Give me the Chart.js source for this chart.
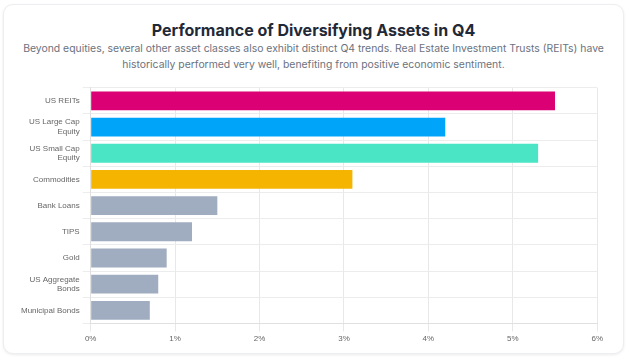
<!DOCTYPE html>
<html>
<head>
<meta charset="utf-8">
<style>
	body {
		margin: 0;
		background: #ffffff;
		font-family: Inter, "Noto Sans", sans-serif;
	}

	.card {
		position: absolute;
		left: 3px;
		top: 4px;
		width: 619px;
		height: 348px;
		background: #fff;
		border: 1px solid #eceef1;
		border-radius: 10px;
		box-shadow: 0 1px 3px rgba(0, 0, 0, 0.08);
	}

	.card h2 {
		position: absolute;
		left: 0;
		right: 0;
		top: 15px;
		margin: 0;
		text-align: center;
		font-size: 16px;
		font-weight: 700;
		color: #1f2937;
	}

	.card p {
		position: absolute;
		left: 6px;
		right: 6px;
		top: 36px;
		margin: 0;
		text-align: center;
		font-size: 10.4px;
		line-height: 16px;
		color: #6b7280;
	}

	.chartBox {
		position: absolute;
		left: 14px;
		top: 75px;
		width: 588px;
		height: 267px;
	}
</style>
</head>
<body>
<div class="card">
	<h2>Performance of Diversifying Assets in Q4</h2>
	<p>Beyond equities, several other asset classes also exhibit distinct Q4 trends. Real Estate Investment Trusts (REITs) have historically performed very well, benefiting from positive economic sentiment.</p>
	<div class="chartBox">
		<canvas id="assetChart"></canvas>
	</div>
</div>

<script src="https://cdn.jsdelivr.net/npm/chart.js"></script>

<script>
	var labels = [
		'US REITs',
		['US Large Cap', 'Equity'],
		['US Small Cap', 'Equity'],
		'Commodities',
		'Bank Loans',
		'TIPS',
		'Gold',
		['US Aggregate', 'Bonds'],
		'Municipal Bonds'
	];

	var q4Returns = [5.5, 4.2, 5.3, 3.1, 1.5, 1.2, 0.9, 0.8, 0.7];

	var barColors = [
		'#db0073', // REITs
		'#00a5f9', // large cap
		'#4ae5c5', // small cap
		'#f4b400', // commodities
		'#a0acbf',
		'#a0acbf',
		'#a0acbf',
		'#a0acbf',
		'#a0acbf'
	];

	var tickFont = { family: 'Arial, "Liberation Sans", sans-serif', size: 8 };

	new Chart(document.getElementById('assetChart'), {
		type: 'bar',
		data: {
			labels: labels,
			datasets: [{
				label: 'Q4 Return',
				data: q4Returns,
				backgroundColor: barColors,
				borderWidth: 0
			}]
		},
		options: {
			indexAxis: 'y',
			responsive: true,
			maintainAspectRatio: false,
			animation: false,
			plugins: {
				legend: { display: false },
				tooltip: { enabled: false }
			},
			scales: {
				x: {
					min: 0,
					max: 6,
					ticks: {
						stepSize: 1,
						color: '#666',
						font: tickFont,
						callback: function (v) { return v + '%'; }
					},
					grid: { color: '#e8e8e8' },
					border: { color: '#e0e0e0' }
				},
				y: {
					ticks: {
						color: '#666',
						font: tickFont
					},
					grid: { color: '#ececec' },
					border: { color: '#e0e0e0' }
				}
			}
		}
	});
</script>
</body>
</html>
